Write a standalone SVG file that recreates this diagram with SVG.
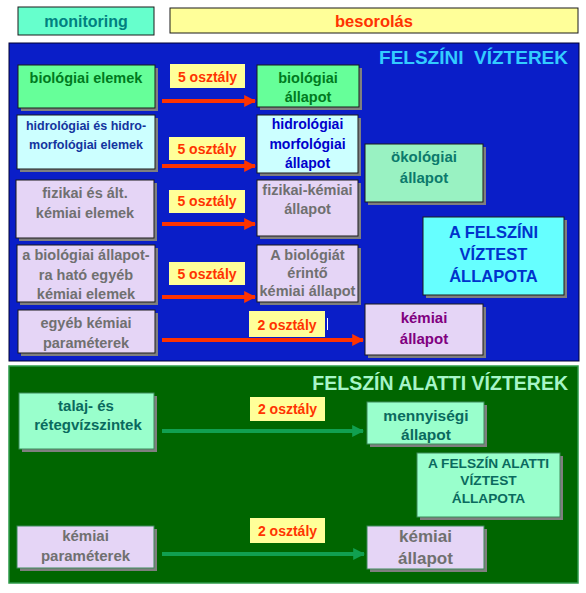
<svg xmlns="http://www.w3.org/2000/svg" width="586" height="593" viewBox="0 0 586 593">
<style>
text{font-family:"Liberation Sans",Arial,sans-serif;font-weight:bold;text-anchor:middle}
.sh{fill:#7f7f7f}
.bx{stroke:#1a1a1a;stroke-width:1}
.gbx{stroke:#3d8a5a;stroke-width:1}
.grn{fill:#66ff99}
.cyn{fill:#ccffff}
.lav{fill:#e5d5f6}
.mnt{fill:#99ffcc}
.lbl{fill:#ffff99}
.lt{fill:#ff3300;font-size:14px}
.gray{fill:#707070;font-size:14.5px}
.gt{fill:#0a6a5e}
.red{stroke:#ff3300;stroke-width:4;fill:none}
.grl{stroke:#11a050;stroke-width:4;fill:none}
</style>
<defs>
<marker id="ar" viewBox="0 0 10 10" refX="9" refY="5" markerWidth="3" markerHeight="3" orient="auto" markerUnits="strokeWidth"><path d="M0,0 L10,5 L0,10 Z" fill="#ff3300"/></marker>
<marker id="ag" viewBox="0 0 10 10" refX="9" refY="5" markerWidth="3" markerHeight="3" orient="auto" markerUnits="strokeWidth"><path d="M0,0 L10,5 L0,10 Z" fill="#11a050"/></marker>
</defs>
<rect width="586" height="593" fill="#ffffff"/>
<g id="monitoring">
<rect x="18" y="7" width="136" height="28" fill="#66ffcc" class="bx"/>
<text x="86" y="27" font-size="16" fill="#008080">monitoring</text>
</g>
<g id="besorolas">
<rect x="170" y="8" width="408" height="25" fill="#ffff99" class="bx"/>
<text x="374" y="26.5" font-size="16.5" fill="#ff3300">besorolás</text>
</g>
<g id="felszini-panel">
<rect x="9" y="43" width="570" height="318" fill="#0a1ec8" stroke="#000033" stroke-width="1"/>
<text x="568" y="64" font-size="19" fill="#33ccff" style="text-anchor:end" xml:space="preserve">FELSZÍNI  VÍZTEREK</text>
</g>
<g id="felszin-alatti-panel">
<rect x="9" y="366" width="569" height="217" fill="#006600" stroke="#2e9a4a" stroke-width="1.5"/>
<text x="568" y="390" font-size="19.5" fill="#a6f5c8" style="text-anchor:end">FELSZÍN ALATTI VÍZTEREK</text>
</g>
<g id="connectors">
<line x1="162" y1="101" x2="255" y2="101" class="red" marker-end="url(#ar)"/>
<line x1="162" y1="166" x2="255" y2="166" class="red" marker-end="url(#ar)"/>
<line x1="162" y1="224" x2="255" y2="224" class="red" marker-end="url(#ar)"/>
<line x1="162" y1="297" x2="255" y2="297" class="red" marker-end="url(#ar)"/>
<line x1="162" y1="340" x2="363" y2="340" class="red" marker-end="url(#ar)"/>
<line x1="162" y1="431" x2="363" y2="431" class="grl" marker-end="url(#ag)"/>
<line x1="162" y1="554" x2="364" y2="554" class="grl" marker-end="url(#ag)"/>
</g>
<g id="lbl1"><rect x="170" y="64" width="75" height="24" class="lbl"/><text x="207.5" y="82" class="lt">5 osztály</text></g>
<g id="lbl2"><rect x="169" y="137" width="76" height="23" class="lbl"/><text x="207" y="154" class="lt">5 osztály</text></g>
<g id="lbl3"><rect x="169" y="190" width="76" height="23" class="lbl"/><text x="207" y="206" class="lt">5 osztály</text></g>
<g id="lbl4"><rect x="169" y="262" width="76" height="23" class="lbl"/><text x="207" y="279" class="lt">5 osztály</text></g>
<g id="lbl5"><rect x="249" y="311" width="76" height="26" class="lbl"/><text x="287" y="330" class="lt">2 osztály</text><line x1="327.5" y1="318" x2="327.5" y2="330" stroke="#ffffff" stroke-width="1"/></g>
<g id="lbl6"><rect x="250" y="397" width="75" height="24" class="lbl"/><text x="287.5" y="414" class="lt">2 osztály</text></g>
<g id="lbl7"><rect x="250" y="518" width="75" height="25" class="lbl"/><text x="287.5" y="536" class="lt">2 osztály</text></g>
<g id="biologiai-elemek">
<rect x="21" y="68" width="137" height="43" class="sh"/>
<rect x="18" y="65" width="137" height="43" class="grn bx"/>
<text x="86" y="83" font-size="14.5" fill="#007a20">biológiai elemek</text>
</g>
<g id="biologiai-allapot">
<rect x="260" y="68" width="102" height="42" class="sh"/>
<rect x="257" y="65" width="102" height="42" class="grn bx"/>
<text x="308" y="83" font-size="14.5" fill="#007a20">biológiai</text>
<text x="308" y="102" font-size="14.5" fill="#007a20">állapot</text>
</g>
<g id="hidro-elemek">
<rect x="20" y="118" width="138" height="54" class="sh"/>
<rect x="17" y="115" width="138" height="54" class="cyn bx"/>
<text x="86" y="130" font-size="12.5" fill="#13349e">hidrológiai és hidro-</text>
<text x="86" y="149" font-size="12.5" fill="#13349e">morfológiai elemek</text>
</g>
<g id="hidro-allapot">
<rect x="260" y="118" width="101" height="58" class="sh"/>
<rect x="257" y="115" width="101" height="58" class="cyn bx"/>
<text x="307.5" y="129" font-size="14" fill="#0000cc">hidrológiai</text>
<text x="307.5" y="149" font-size="14" fill="#0000cc">morfológiai</text>
<text x="307.5" y="168" font-size="14" fill="#0000cc">állapot</text>
</g>
<g id="fizikai-elemek">
<rect x="19" y="183" width="138" height="58" class="sh"/>
<rect x="16" y="180" width="138" height="58" class="lav bx"/>
<text x="85" y="198" class="gray">fizikai és ált.</text>
<text x="85" y="218" class="gray">kémiai elemek</text>
</g>
<g id="fizikai-kemiai-allapot">
<rect x="260" y="183" width="101" height="56" class="sh"/>
<rect x="257" y="180" width="101" height="56" class="lav bx"/>
<text x="307.5" y="195" class="gray">fizikai-kémiai</text>
<text x="307.5" y="214" class="gray">állapot</text>
</g>
<g id="okologiai-allapot">
<rect x="368" y="147" width="118" height="58" class="sh"/>
<rect x="365" y="144" width="118" height="58" fill="#99f2c2" class="bx"/>
<text x="424" y="162" font-size="15" fill="#0c7a6c">ökológiai</text>
<text x="424" y="183" font-size="15" fill="#0c7a6c">állapot</text>
</g>
<g id="felszini-viztest-allapota">
<rect x="426" y="220" width="141" height="78" class="sh"/>
<rect x="423" y="217" width="141" height="78" fill="#66ffff" class="bx"/>
<text x="493.5" y="238" font-size="16.5" fill="#0033cc">A FELSZÍNI</text>
<text x="493.5" y="260" font-size="16.5" fill="#0033cc">VÍZTEST</text>
<text x="493.5" y="282" font-size="16.5" fill="#0033cc">ÁLLAPOTA</text>
</g>
<g id="biol-allapotra-hato">
<rect x="20" y="248" width="138" height="57" class="sh"/>
<rect x="17" y="245" width="138" height="57" class="lav bx"/>
<text x="86" y="260" class="gray">a biológiai állapot-</text>
<text x="86" y="280" class="gray">ra ható egyéb</text>
<text x="86" y="299" class="gray">kémiai elemek</text>
</g>
<g id="biologiat-erinto">
<rect x="260" y="248" width="101" height="57" class="sh"/>
<rect x="257" y="245" width="101" height="57" class="lav bx"/>
<text x="307.5" y="260" class="gray">A biológiát</text>
<text x="307.5" y="278" class="gray">érintő</text>
<text x="307.5" y="296" class="gray">kémiai állapot</text>
</g>
<g id="egyeb-kemiai">
<rect x="21" y="313" width="137" height="43" class="sh"/>
<rect x="18" y="310" width="137" height="43" class="lav bx"/>
<text x="86" y="328" class="gray">egyéb kémiai</text>
<text x="86" y="348" class="gray">paraméterek</text>
</g>
<g id="kemiai-allapot-felszini">
<rect x="368" y="307" width="118" height="51" class="sh"/>
<rect x="365" y="304" width="118" height="51" class="lav bx"/>
<text x="424" y="323" font-size="15" fill="#800080">kémiai</text>
<text x="424" y="344" font-size="15" fill="#800080">állapot</text>
</g>
<g id="talaj-retegviz">
<rect x="22" y="396" width="135" height="56" class="sh"/>
<rect x="19" y="393" width="135" height="56" class="mnt gbx"/>
<text x="86" y="411" font-size="15" class="gt">talaj- és</text>
<text x="88" y="430" font-size="15" class="gt">rétegvízszintek</text>
</g>
<g id="mennyisegi-allapot">
<rect x="370" y="405" width="117" height="42" class="sh"/>
<rect x="367" y="402" width="117" height="42" class="mnt gbx"/>
<text x="426" y="421" font-size="15.5" class="gt">mennyiségi</text>
<text x="426" y="440" font-size="15.5" class="gt">állapot</text>
</g>
<g id="felszin-alatti-viztest-allapota">
<rect x="420" y="456" width="143" height="64" class="sh"/>
<rect x="417" y="453" width="143" height="64" class="mnt gbx"/>
<text x="488.5" y="468" font-size="13.7" class="gt">A FELSZÍN ALATTI</text>
<text x="488.5" y="485" font-size="13.7" class="gt">VÍZTEST</text>
<text x="488.5" y="503" font-size="13.7" class="gt">ÁLLAPOTA</text>
</g>
<g id="kemiai-parameterek">
<rect x="20" y="529" width="137" height="42" class="sh"/>
<rect x="17" y="526" width="137" height="42" class="lav gbx"/>
<text x="85.5" y="541" font-size="15" fill="#707070">kémiai</text>
<text x="85.5" y="561" font-size="15" fill="#707070">paraméterek</text>
</g>
<g id="kemiai-allapot-alatti">
<rect x="370" y="529" width="117" height="43" class="sh"/>
<rect x="367" y="526" width="117" height="43" class="lav gbx"/>
<text x="425.5" y="542" font-size="17" fill="#707070">kémiai</text>
<text x="425.5" y="564" font-size="17" fill="#707070">állapot</text>
</g>
</svg>
